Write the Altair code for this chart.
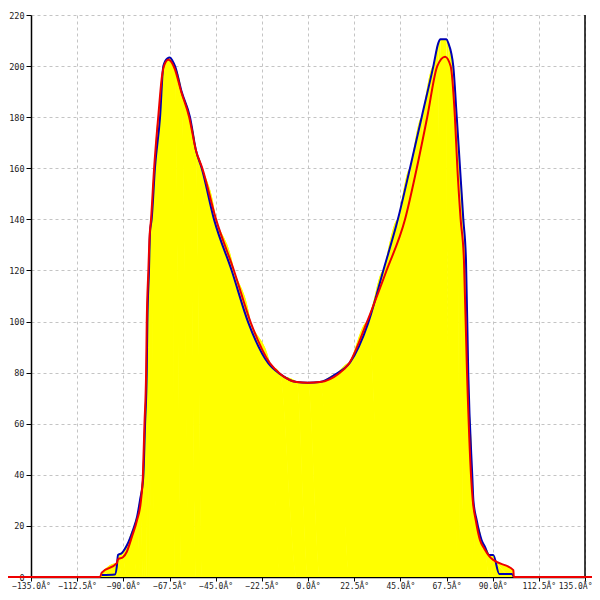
import altair as alt
import pandas as pd

x_ticks = [-135, -112.5, -90, -67.5, -45, -22.5, 0, 22.5, 45, 67.5, 90, 112.5, 135]
y_ticks = [0, 20, 40, 60, 80, 100, 120, 140, 160, 180, 200, 220]

blue_x = [-100.5, -94.1, -93.2, -92.6, -90.7, -88.2, -85.3, -83.3, -81.9, -80.3, -79.4,
          -78.6, -78.3, -77.5, -77.0, -76.2, -74.6, -72.1, -70.5, -68.6, -67.3, -66.0,
          -64.8, -61.6, -57.5, -54.6, -51.8, -45.8, -37.2, -29.1, -19.3, -13.7,
          -5.5, 0.0, 5.8, 13.1, 20.5, 29.4, 36.7, 43.8, 49.7, 55.4, 61.1, 63.5,
          64.5, 67.5, 68.4, 70.8, 72.5, 74.1, 75.7, 77.0, 78.1, 80.1, 80.6, 82.2, 84.6,
          86.2, 88.3, 90.3, 93.2, 99.3, 100.3]
blue_y = [0.8, 1.0, 4.0, 8.6, 9.4, 12.5, 18.4, 23.6, 30, 39, 60,
          80, 99, 120, 135, 140, 160, 180, 200, 203, 203.4, 202,
          200, 190, 180, 167, 160, 140, 120, 99.6, 83.6, 79.5,
          76.3, 76, 76.3, 79.2, 84.0, 99.6, 120, 140, 160, 180, 200, 209,
          210.5, 210.5, 209, 200, 180, 160, 140, 124, 80, 39, 30, 22.3, 14.5,
          11.9, 8.6, 8.6, 1.2, 1.2, 0]

red_x = [-150, -101.4, -100.5, -93.2, -92.6, -90.2, -88.3, -85.8, -83.3, -81.4, -80.5,
         -79.7, -78.9, -78.6, -77.8, -77.3, -76.5, -75.0, -73.0, -71.0, -70.0, -68.0,
         -66.5, -65.0, -61.8, -57.9, -54.6, -51.5, -44.8, -36.1, -27.9, -18.5,
         -13.5, -5.5, 0.0, 5.8, 14.8, 20.0, 28.6, 38.3, 47.3, 53.0, 58.1, 63.0,
         66.8, 69.5, 71.6, 72.8, 74.4, 76.0, 77.5, 79.5, 80.3, 81.8, 83.8, 86.0, 88.5,
         90.3, 100.1, 100.3, 150]
red_y = [0, 0, 1.7, 5.4, 6.9, 7.7, 9.9, 15.8, 22.3, 30, 39,
         60, 80, 99, 120, 132, 140, 160, 180, 197, 200.5, 202.5,
         201.5, 199, 190, 180, 167, 160, 140, 120, 99.6, 83.6,
         79.5, 76.3, 76, 76.3, 79.5, 83.6, 99.6, 120, 140, 160, 180, 200,
         203.7, 200, 180, 160, 140, 124, 80, 39, 30, 22, 14.5, 11, 8,
         6.7, 2.7, 0, 0]

blue = pd.DataFrame({"angle": blue_x, "count": blue_y, "i": list(range(len(blue_x)))})
red = pd.DataFrame({"angle": red_x, "count": red_y, "i": list(range(len(red_x)))})

xscale = alt.Scale(domain=[-135, 135], nice=False, zero=False)
yscale = alt.Scale(domain=[0, 220], nice=False)

font = "DejaVu Sans Mono"
xaxis = alt.Axis(values=x_ticks, labelExpr="format(datum.value, '.1f') + 'Â°'", title=None,
                 grid=True, gridDash=[3, 3], gridColor="#c4c4c4", gridWidth=1,
                 domainColor="black", domainWidth=1.5, tickColor="black", tickSize=4,
                 labelFont=font, labelFontSize=8, labelColor="#222222", labelPadding=1,
                 labelFlush=False, labelOverlap=False,
                 labelAlign={"condition": {"test": "datum.value == 135", "value": "right"},
                             "value": "center"},
                 labelOffset={"condition": {"test": "datum.value == 135", "value": 7},
                              "value": 0})
yaxis = alt.Axis(values=y_ticks, title=None, grid=True, gridDash=[3, 3], gridColor="#c4c4c4",
                 gridWidth=1, domainColor="black", domainWidth=1.5, tickColor="black",
                 tickSize=5, labelFont=font, labelFontSize=8.5, labelColor="#222222",
                 labelPadding=2)

x_enc = alt.X("angle:Q", scale=xscale, axis=xaxis)
y_enc = alt.Y("count:Q", scale=yscale, axis=yaxis)

area_blue = alt.Chart(blue).mark_area(color="#ffff00", clip=False, interpolate="monotone").encode(
    x=x_enc, y=y_enc, order="i:Q")
area_red = alt.Chart(red).mark_area(color="#ffff00", clip=False, interpolate="monotone").encode(
    x=x_enc, y=y_enc, order="i:Q")
right_line = alt.Chart(pd.DataFrame({"angle": [135]})).mark_rule(
    color="black", strokeWidth=1.5).encode(x=alt.X("angle:Q", scale=xscale, axis=xaxis))
line_blue = alt.Chart(blue).mark_line(color="#0000b4", strokeWidth=2, clip=False,
                                      interpolate="monotone").encode(
    x=x_enc, y=y_enc, order="i:Q")
line_red = alt.Chart(red).mark_line(color="#ee0000", strokeWidth=2, clip=False,
                                    interpolate="monotone").encode(
    x=x_enc, y=y_enc, order="i:Q")

chart = alt.layer(area_blue, area_red, right_line, line_blue, line_red).properties(
    width=554, height=562,
    autosize=alt.AutoSizeParams(type="none"),
    padding={"left": 23, "top": 7, "right": 7, "bottom": 15},
    background="white",
).configure_view(stroke=None)

chart.save("out.html", embed_options={"renderer": "svg", "actions": False})
